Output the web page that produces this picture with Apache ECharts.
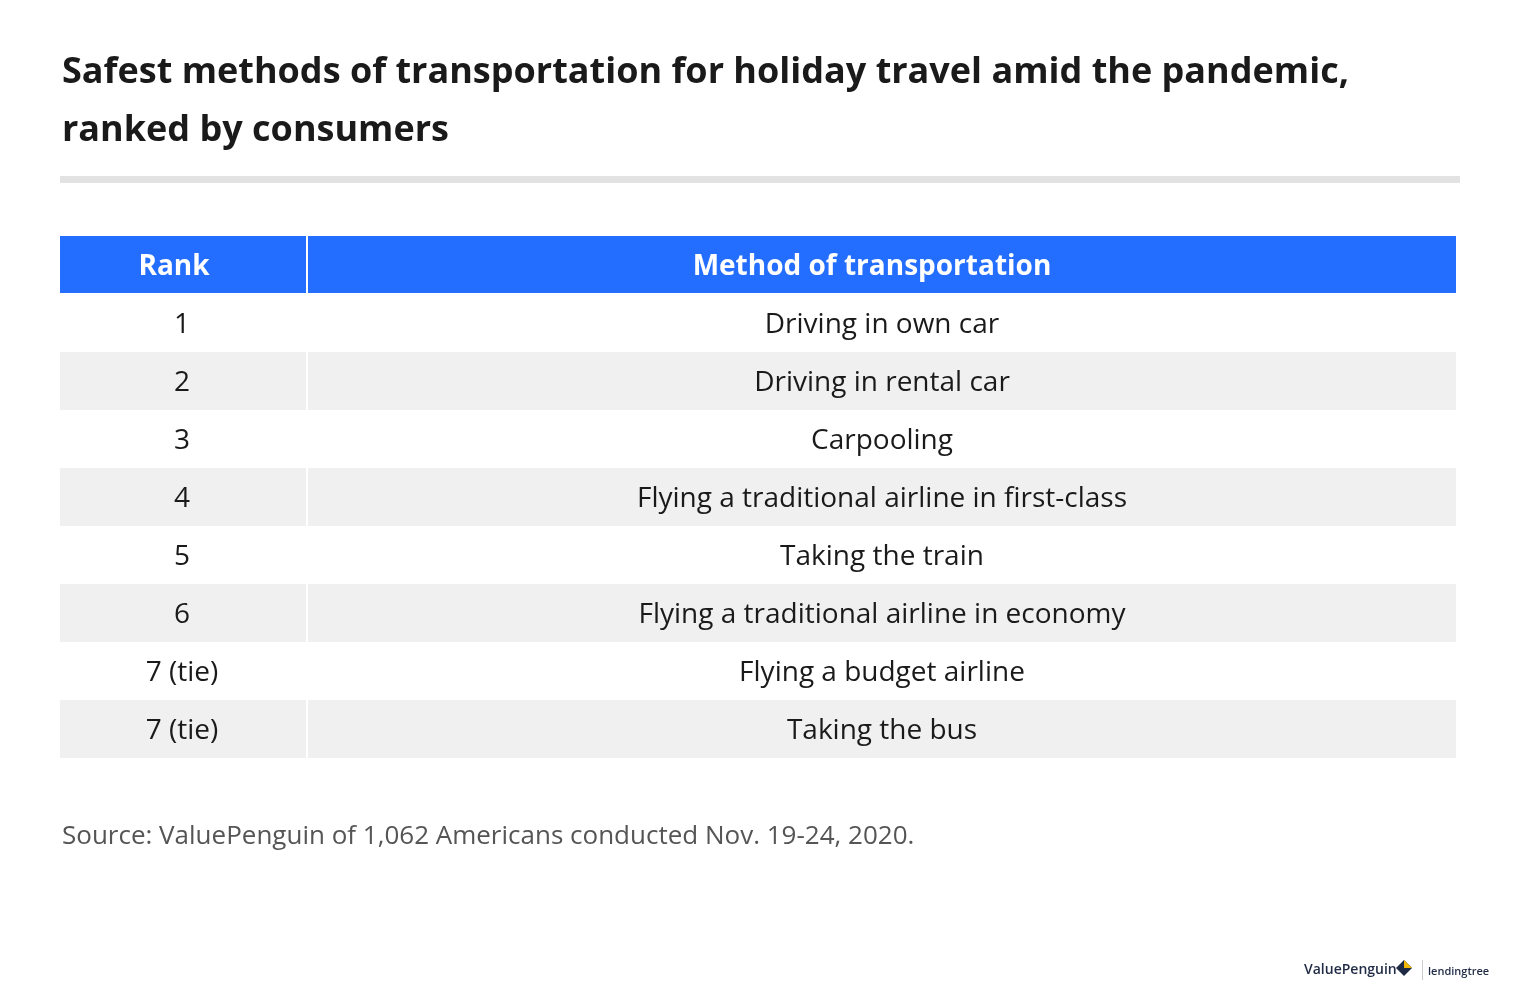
<!DOCTYPE html>
<html><head><meta charset="utf-8">
<script src="https://cdn.jsdelivr.net/npm/echarts@6/dist/echarts.min.js"></script>
<style>html,body{margin:0;padding:0;background:#fff}#c{width:1520px;height:1000px}</style>
</head><body><div id="c"></div>
<script>
const titleLines = ['Safest methods of transportation for holiday travel amid the pandemic,', 'ranked by consumers'];
const headers = ['Rank', 'Method of transportation'];
const ranks = ['1','2','3','4','5','6','7 (tie)','7 (tie)'];
const methods = ['Driving in own car','Driving in rental car','Carpooling','Flying a traditional airline in first-class','Taking the train','Flying a traditional airline in economy','Flying a budget airline','Taking the bus'];
const source = 'Source: ValuePenguin of 1,062 Americans conducted Nov. 19-24, 2020.';

const chart = echarts.init(document.getElementById('c'));
const F = '"Open Sans", sans-serif';
const g = [];
titleLines.forEach((t,i)=>g.push({type:'text',left:62,top:55+i*58,style:{text:t,font:'bold 36px '+F,fill:'#1a1a1a'}}));
g.push({type:'rect',shape:{x:60,y:176,width:1400,height:7},style:{fill:'#e2e2e2'}});
const x0=60,x1=306,x2=308,x3=1456,hy=236,hh=58,rh=58;
g.push({type:'rect',shape:{x:x0,y:hy,width:x1-x0,height:hh-1},style:{fill:'#236efe'}});
g.push({type:'rect',shape:{x:x2,y:hy,width:x3-x2,height:hh-1},style:{fill:'#236efe'}});
g.push({type:'text',x:(x0+x1)/2-9,y:hy+hh/2+2,style:{text:headers[0],font:'bold 28px '+F,fill:'#fff',align:'center',verticalAlign:'middle'}});
g.push({type:'text',x:(x2+x3)/2-10,y:hy+hh/2+2,style:{text:headers[1],font:'bold 28px '+F,fill:'#fff',align:'center',verticalAlign:'middle'}});
ranks.forEach((r,i)=>{
  const y=hy+hh+i*rh;
  const fill = i%2? '#f0f0f0':'#ffffff';
  g.push({type:'rect',shape:{x:x0,y:y,width:x1-x0,height:rh},style:{fill}});
  g.push({type:'rect',shape:{x:x2,y:y,width:x3-x2,height:rh},style:{fill}});
  g.push({type:'text',x:182,y:y+rh/2+2,style:{text:r,font:'28px '+F,fill:'#1a1a1a',align:'center',verticalAlign:'middle'}});
  g.push({type:'text',x:882,y:y+rh/2+2,style:{text:methods[i],font:'28px '+F,fill:'#1a1a1a',align:'center',verticalAlign:'middle'}});
});
g.push({type:'text',left:62,top:824,style:{text:source,font:'26px '+F,fill:'#555'}});
g.push({type:'text',left:1304,top:963,style:{text:'ValuePenguin',font:'600 14px '+F,fill:'#1f2a44'}});
g.push({type:'polygon',shape:{points:[[1396,968],[1404,960],[1412,968],[1404,976]]},style:{fill:'#1f2a44'}});
g.push({type:'polygon',shape:{points:[[1404,960],[1412,968],[1404,968]]},style:{fill:'#f2b705'}});
g.push({type:'rect',shape:{x:1422,y:960,width:1,height:20},style:{fill:'#ccc'}});
g.push({type:'text',left:1428,top:966,style:{text:'lendingtree',font:'600 11px '+F,fill:'#1f2a44'}});
chart.setOption({graphic:g});
</script></body></html>
